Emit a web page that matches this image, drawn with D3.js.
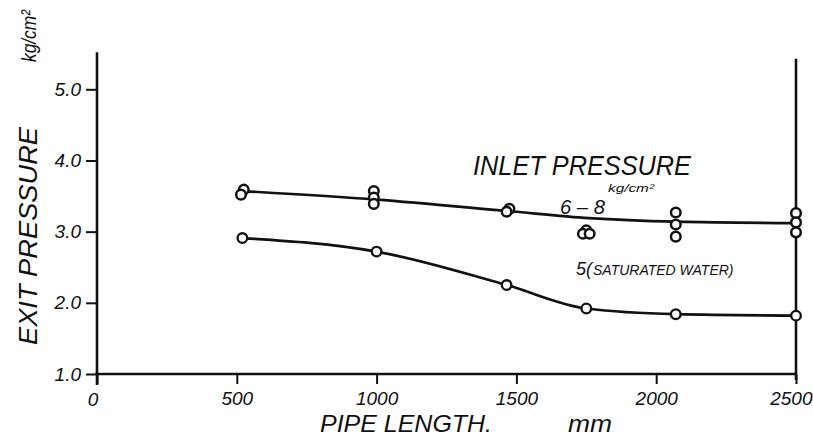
<!DOCTYPE html>
<html>
<head>
<meta charset="utf-8">
<script src="https://cdn.jsdelivr.net/npm/d3@7"></script>
<style>
  html, body { margin: 0; padding: 0; background: #fff; }
  svg { display: block; }
  text { font-family: "Liberation Sans Narrow", "Liberation Sans", sans-serif; font-style: italic; fill: #111; }
</style>
</head>
<body>
<svg id="chart" width="813" height="438"></svg>
<script>
// ---- data ----
const xTicks = [0, 500, 1000, 1500, 2000, 2500];
const yTicks = [1.0, 2.0, 3.0, 4.0, 5.0];

// Inlet pressure 6-8 kg/cm2 : measured points
const hiX = [525, 515, 990, 990, 990, 1475, 1465, 1750, 1738, 1762, 2070, 2070, 2070, 2500, 2500, 2500];
const hiY = [3.59, 3.52, 3.57, 3.48, 3.39, 3.32, 3.28, 3.02, 2.97, 2.97, 3.27, 3.10, 2.93, 3.26, 3.13, 2.99];
// fitted curve for 6-8
const hiFitX = [520, 1000, 1470, 1760, 2070, 2500];
const hiFitY = [3.57, 3.45, 3.29, 3.19, 3.14, 3.12];

// Inlet pressure 5 (saturated water)
const loX = [520, 1000, 1465, 1750, 2070, 2500];
const loY = [2.91, 2.72, 2.25, 1.92, 1.84, 1.82];

const svg = d3.select("#chart");
const ink = "#111";

const x = d3.scaleLinear().domain([0, 2500]).range([97, 796]);
const y = d3.scaleLinear().domain([1, 5]).range([374, 89.3]);

// axes
const xAxis = d3.axisBottom(x).tickValues(xTicks).tickSize(10).tickFormat(d => d === 0 ? "" : d);
const gx = svg.append("g").attr("transform", `translate(0,${y(1)})`).call(xAxis);
gx.select(".domain").remove();
gx.selectAll(".tick line").attr("stroke", ink).attr("stroke-width", 2);
gx.selectAll(".tick text").attr("font-size", 19).attr("dy", "1.0em").attr("y", 12).attr("fill", ink)
  .style("font-family", '"Liberation Sans", sans-serif');
gx.selectAll(".tick").filter(d => d === 2500).select("text")
  .attr("text-anchor", "end").attr("x", 812 - x(2500));

const yAxis = d3.axisLeft(y).tickValues(yTicks).tickSize(11).tickFormat(d3.format(".1f"));
const gy = svg.append("g").attr("transform", `translate(${x(0)},0)`).call(yAxis);
gy.select(".domain").remove();
gy.selectAll(".tick line").attr("stroke", ink).attr("stroke-width", 2);
gy.selectAll(".tick text").attr("font-size", 19).attr("x", -16).attr("fill", ink)
  .style("font-family", '"Liberation Sans", sans-serif');

// axis lines
svg.append("line").attr("x1", x(0)).attr("x2", x(0)).attr("y1", y(5.52)).attr("y2", y(1) + 11)
  .attr("stroke", ink).attr("stroke-width", 2.6);
svg.append("line").attr("x1", x(0) - 2).attr("x2", x(2500)).attr("y1", y(1)).attr("y2", y(1))
  .attr("stroke", ink).attr("stroke-width", 2.6);
svg.append("line").attr("x1", x(2500)).attr("x2", x(2500)).attr("y1", y(5.43)).attr("y2", y(1) + 6)
  .attr("stroke", ink).attr("stroke-width", 2.6);

// "0" label
svg.append("text").attr("x", x(0) - 4).attr("y", y(1) + 32).attr("text-anchor", "middle")
  .attr("font-size", 19).text("0");

// curves
const hiLine = d3.line().x(d => x(d[0])).y(d => y(d[1])).curve(d3.curveMonotoneX);
svg.append("path").datum(hiFitX.map((v, i) => [v, hiFitY[i]]))
  .attr("d", hiLine).attr("fill", "none").attr("stroke", ink).attr("stroke-width", 2.7);

const loLine = d3.line().x(d => x(d[0])).y(d => y(d[1])).curve(d3.curveMonotoneX);
svg.append("path").datum(loX.map((v, i) => [v, loY[i]]))
  .attr("d", loLine).attr("fill", "none").attr("stroke", ink).attr("stroke-width", 2.7);

// markers
svg.append("g").selectAll("circle").data(hiX.map((v, i) => [v, hiY[i]])).join("circle")
  .attr("cx", d => x(d[0])).attr("cy", d => y(d[1])).attr("r", 4.8)
  .attr("fill", "#fff").attr("stroke", ink).attr("stroke-width", 2.5);
svg.append("g").selectAll("circle").data(loX.map((v, i) => [v, loY[i]])).join("circle")
  .attr("cx", d => x(d[0])).attr("cy", d => y(d[1])).attr("r", 4.8)
  .attr("fill", "#fff").attr("stroke", ink).attr("stroke-width", 2.3);

// annotations
svg.append("text").attr("x", 473).attr("y", 175).attr("font-size", 27)
  .attr("textLength", 218).attr("lengthAdjust", "spacingAndGlyphs").text("INLET PRESSURE");
svg.append("text").attr("x", 608).attr("y", 192).attr("font-size", 11)
  .attr("textLength", 46).attr("lengthAdjust", "spacingAndGlyphs").text("kg/cm²");
svg.append("text").attr("x", 560).attr("y", 214).attr("font-size", 20)
  .attr("textLength", 45).attr("lengthAdjust", "spacingAndGlyphs").text("6 – 8");
const t5 = svg.append("text").attr("x", 576).attr("y", 275);
t5.append("tspan").attr("font-size", 18).text("5(");
t5.append("tspan").attr("font-size", 14).attr("dx", 1).text("SATURATED WATER)");

// axis titles
svg.append("text").attr("x", 320).attr("y", 432).attr("font-size", 24)
  .attr("textLength", 172).attr("lengthAdjust", "spacingAndGlyphs").text("PIPE LENGTH.");
svg.append("text").attr("x", 568).attr("y", 432).attr("font-size", 24)
  .attr("textLength", 44).attr("lengthAdjust", "spacingAndGlyphs").text("mm");

svg.append("text").attr("transform", "translate(37,345) rotate(-90)").attr("font-size", 26)
  .attr("textLength", 218).attr("lengthAdjust", "spacingAndGlyphs").text("EXIT PRESSURE");
svg.append("text").attr("transform", "translate(36,62) rotate(-90)").attr("font-size", 21)
  .attr("textLength", 52).attr("lengthAdjust", "spacingAndGlyphs").text("kg/cm²");
</script>
</body>
</html>
